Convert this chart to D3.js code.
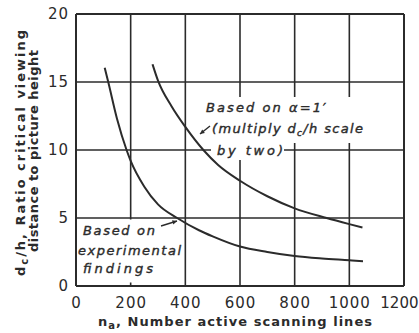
<!DOCTYPE html>
<html><head><meta charset="utf-8">
<script src="https://cdn.jsdelivr.net/npm/d3@7/dist/d3.min.js"></script>
<style>
html,body{margin:0;padding:0;background:#fff;}
svg{display:block;}
text{fill:#2b2b2b;}
</style></head>
<body>
<svg id="c" width="419" height="333"></svg>
<script>
// ---- data ----
const xTicks = [0, 200, 400, 600, 800, 1000, 1200];
const yTicks = [0, 5, 10, 15, 20];
const expX = [105, 118, 150, 185, 200, 250, 300, 370, 450, 500, 600, 700, 800, 900, 1000, 1050];
const expY = [16.05, 15, 12.3, 10, 9.2, 7.3, 6.0, 5.0, 4.1, 3.65, 2.9, 2.5, 2.2, 2.02, 1.89, 1.82];
const alphaX = [280, 300, 350, 400, 466, 520, 600, 700, 800, 917, 1000, 1048];
const alphaY = [16.3, 15.1, 13.2, 11.7, 10, 8.9, 7.74, 6.6, 5.71, 5.0, 4.55, 4.3];

const W = 419, H = 333;
const m = {left: 76, top: 14, right: 15, bottom: 47};
const svg = d3.select('#c');
const ink = '#2b2b2b';

const x = d3.scaleLinear().domain([0, 1200]).range([m.left, W - m.right]);
const y = d3.scaleLinear().domain([0, 20]).range([H - m.bottom, m.top]);

// grid
const g = svg.append('g');
g.selectAll('line.vx').data(xTicks).join('line')
  .attr('x1', d => x(d)).attr('x2', d => x(d))
  .attr('y1', y(0)).attr('y2', y(20))
  .attr('stroke', ink).attr('stroke-width', d => (d === 0 || d === 1200) ? 2 : 1.6);
g.selectAll('line.hy').data(yTicks).join('line')
  .attr('x1', x(0)).attr('x2', x(1200))
  .attr('y1', d => y(d)).attr('y2', d => y(d))
  .attr('stroke', ink).attr('stroke-width', d => (d === 0 || d === 20) ? 2 : 1.6);

// white backgrounds behind annotations
svg.append('rect').attr('x', 204).attr('y', 97).attr('width', 164).attr('height', 46).attr('fill', '#fff');
svg.append('rect').attr('x', 211).attr('y', 143).attr('width', 73).attr('height', 17).attr('fill', '#fff');
svg.append('rect').attr('x', x(0) + 1.5).attr('y', y(5) + 1.5).attr('width', 103).attr('height', y(0) - y(5) - 5).attr('fill', '#fff');

// curves
const line = d3.line().x(d => x(d[0])).y(d => y(d[1])).curve(d3.curveMonotoneX);
svg.append('path').datum(d3.zip(expX, expY)).attr('d', line)
  .attr('fill', 'none').attr('stroke', ink).attr('stroke-width', 2);
svg.append('path').datum(d3.zip(alphaX, alphaY)).attr('d', line)
  .attr('fill', 'none').attr('stroke', ink).attr('stroke-width', 2);

// axes (labels only)
const xa = svg.append('g').attr('transform', `translate(0,${y(0)})`)
  .call(d3.axisBottom(x).tickValues(xTicks).tickSize(0).tickPadding(11).tickFormat(d3.format('d')));
xa.select('.domain').remove();
xa.selectAll('text').attr('font-family', 'DejaVu Sans').attr('font-size', 15).attr('letter-spacing', 1).attr('fill', ink);
xa.selectAll('.tick').filter(d => d === 1200).select('text')
  .attr('text-anchor', 'end').attr('x', 14).attr('letter-spacing', 0);

const ya = svg.append('g').attr('transform', `translate(${x(0)},0)`)
  .call(d3.axisLeft(y).tickValues(yTicks).tickSize(0).tickPadding(7).tickFormat(d3.format('d')));
ya.select('.domain').remove();
ya.selectAll('text').attr('font-family', 'DejaVu Sans').attr('font-size', 15).attr('letter-spacing', 1).attr('fill', ink);

// axis titles
const xt = svg.append('text').attr('x', 98).attr('y', 326)
  .attr('font-family', 'DejaVu Sans').attr('font-size', 13).attr('font-weight', 'bold').attr('fill', ink)
  .attr('textLength', 274).attr('lengthAdjust', 'spacing');
xt.append('tspan').text('n');
xt.append('tspan').attr('dy', 3).attr('font-size', 10).text('a');
xt.append('tspan').attr('dy', -3).text(', Number active scanning lines');

const yt1 = svg.append('text').attr('transform', 'translate(25,276) rotate(-90)')
  .attr('font-family', 'DejaVu Sans').attr('font-size', 13).attr('font-weight', 'bold').attr('fill', ink)
  .attr('textLength', 246).attr('lengthAdjust', 'spacing');
yt1.append('tspan').text('d');
yt1.append('tspan').attr('dy', 3).attr('font-size', 10).text('c');
yt1.append('tspan').attr('dy', -3).text('/h, Ratio critical viewing');

svg.append('text').attr('transform', 'translate(38,252) rotate(-90)')
  .attr('font-family', 'DejaVu Sans').attr('font-size', 13).attr('font-weight', 'bold').attr('fill', ink)
  .attr('textLength', 202).attr('lengthAdjust', 'spacing')
  .text('distance to picture height');

// annotations
const ann = (tx, ty, len) => svg.append('text').attr('x', tx).attr('y', ty)
  .attr('font-family', 'DejaVu Sans').attr('font-style', 'italic')
  .attr('font-size', 13).attr('fill', ink).attr('stroke', ink).attr('stroke-width', 0.4)
  .attr('textLength', len).attr('lengthAdjust', 'spacing');
ann(206, 112, 120).text("Based on \u03B1=1\u2032");
const a2 = ann(212, 133, 151);
a2.append('tspan').text('(multiply d');
a2.append('tspan').attr('dy', 3).attr('font-size', 9).text('c');
a2.append('tspan').attr('dy', -3).text('/h scale');
ann(217, 155, 66).text('by two)');

ann(83, 235, 72).text('Based on');
ann(78, 255, 103).text('experimental');
ann(83, 273, 70).text('findings');

// arrows
const arrow = (x1, y1, x2, y2) => {
  svg.append('line').attr('x1', x1).attr('y1', y1).attr('x2', x2).attr('y2', y2)
    .attr('stroke', ink).attr('stroke-width', 1.4);
  const a = Math.atan2(y2 - y1, x2 - x1), s = 5;
  const p = [[x2, y2],
    [x2 - s * Math.cos(a - 0.45), y2 - s * Math.sin(a - 0.45)],
    [x2 - s * Math.cos(a + 0.45), y2 - s * Math.sin(a + 0.45)]];
  svg.append('polygon').attr('points', p.map(d => d.join(',')).join(' ')).attr('fill', ink);
};
arrow(210, 126, 200, 134);
arrow(161, 226, 177, 221);
</script>
</body></html>
